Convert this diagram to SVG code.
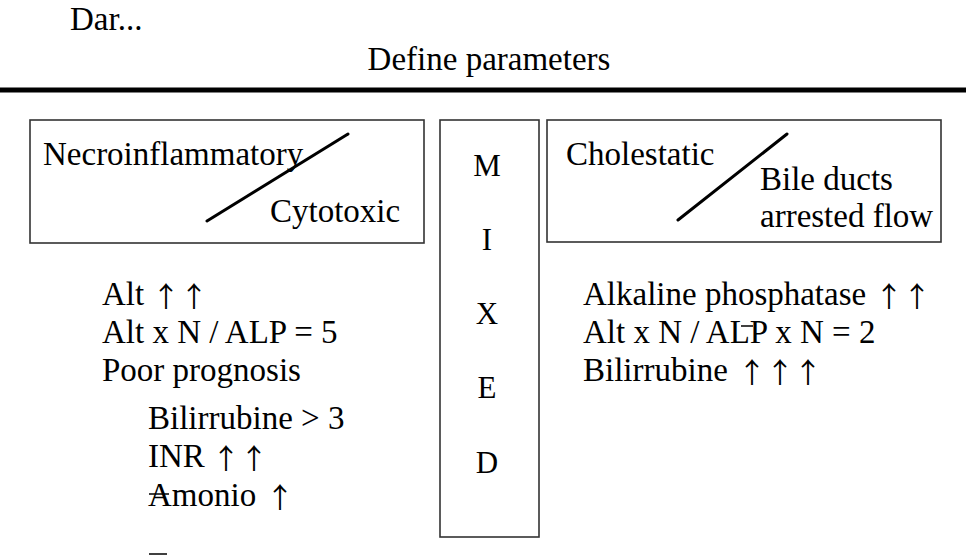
<svg xmlns="http://www.w3.org/2000/svg" width="966" height="558" viewBox="0 0 966 558">
<style>
text{font-family:"Liberation Serif","Times New Roman",serif;font-size:33px;fill:#000}
.box{fill:none;stroke:#333;stroke-width:1.6}
.diag{stroke:#000;stroke-width:3;stroke-linecap:round}
.mid{text-anchor:middle;font-size:31px}
.thin{stroke:#000;stroke-width:1.5}
.ar{font-family:"Noto Sans CJK SC","Noto Sans CJK JP",sans-serif;font-size:28px}
</style>
<rect width="966" height="558" fill="#fff"/>
<g id="header">
<text x="70" y="30">Dar...</text>
<text x="489" y="70" text-anchor="middle">Define parameters</text>
<line x1="0" y1="90" x2="966" y2="90" stroke="#000" stroke-width="5"/>
</g>
<g id="node-necro">
<rect class="box" x="30" y="120" width="394" height="123"/>
<text x="43" y="165">Necroinflammatory</text>
<text x="270" y="222">Cytotoxic</text>
<line class="diag" x1="207" y1="221" x2="348" y2="134"/>
</g>
<g id="node-mixed">
<rect class="box" x="440" y="120" width="99" height="417"/>
<text class="mid" x="487" y="176">M</text>
<text class="mid" x="487" y="250">I</text>
<text class="mid" x="487" y="324">X</text>
<text class="mid" x="487" y="398">E</text>
<text class="mid" x="487" y="473">D</text>
</g>
<g id="node-cholestatic">
<rect class="box" x="547" y="120" width="394" height="122"/>
<text x="566" y="165">Cholestatic</text>
<text x="760" y="190">Bile ducts</text>
<text x="760" y="227">arrested flow</text>
<line class="diag" x1="678" y1="220" x2="787" y2="134"/>
</g>
<g id="list-left">
<text x="102" y="305">Alt<tspan class="ar" x="152" dy="2">↑↑</tspan></text>
<text x="102" y="343">Alt x N / ALP = 5</text>
<text x="102" y="381">Poor prognosis</text>
<text x="148" y="429">Bilirrubine &gt; 3</text>
<text x="148" y="467">INR<tspan class="ar" x="212" dy="2">↑↑</tspan></text>
<text x="148" y="506">Amonio<tspan class="ar" x="266" dy="2">↑</tspan></text>
<line class="thin" x1="149" y1="494" x2="169" y2="494"/>
<line class="thin" x1="149" y1="554" x2="167" y2="554"/>
</g>
<g id="list-right">
<text x="583" y="305">Alkaline phosphatase<tspan class="ar" x="875" dy="2">↑↑</tspan></text>
<text x="583" y="343">Alt x N / ALP x N = 2</text>
<line class="thin" x1="741" y1="326" x2="753" y2="326"/>
<text x="583" y="381">Bilirrubine<tspan class="ar" x="738" dy="2">↑↑↑</tspan></text>
</g>
<g id="connectors"/>
</svg>
